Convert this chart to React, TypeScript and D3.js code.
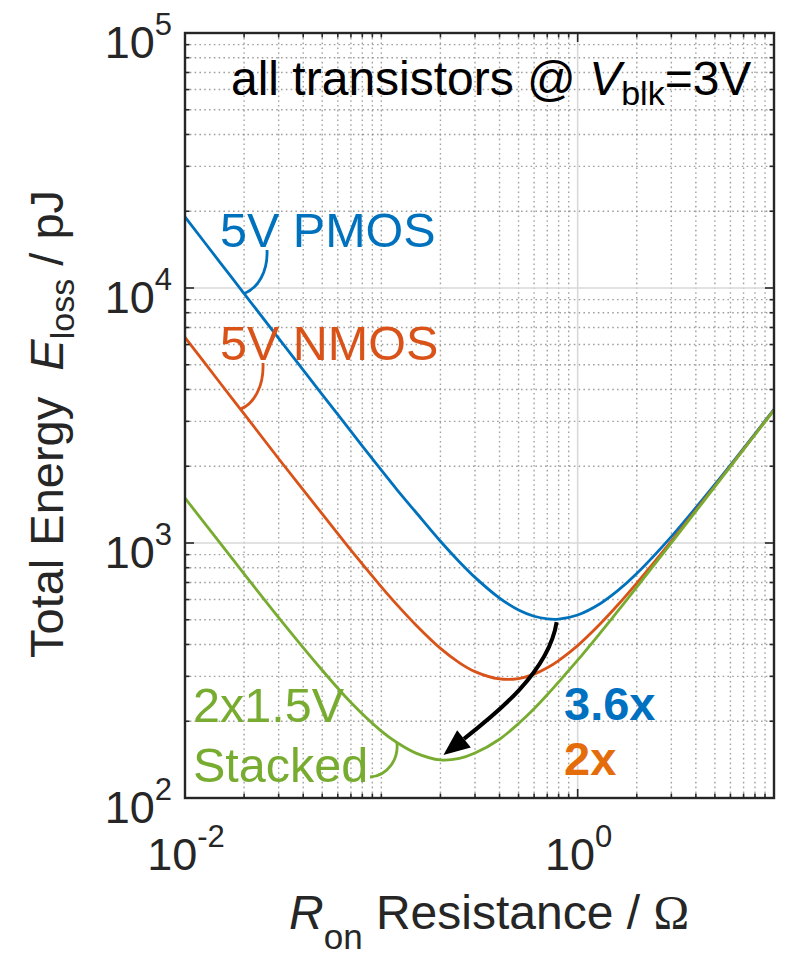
import React from 'react';
import * as d3 from 'd3';

// R_on sweep (ohm) and total loss energy (pJ)
const R_ON = [0.01, 0.015, 0.02, 0.03, 0.05, 0.07, 0.1, 0.12, 0.15, 0.2, 0.25, 0.3, 0.4, 0.5, 0.6, 0.7, 0.8, 1, 1.3, 1.6, 2, 3, 5, 7, 10];
const E_PMOS = [19000, 12670, 9510, 6340, 3820, 2740, 1930, 1620, 1320, 1016, 843, 733, 608, 546, 516, 504, 503, 522, 578, 650, 759, 1059, 1698, 2351, 3339];
const E_NMOS = [6400, 4270, 3210, 2140, 1300, 937, 673, 573, 477, 386, 339, 313, 293, 294, 306, 324, 346, 396, 481, 571, 696, 1017, 1673, 2333, 3326];
const E_STACKED = [1500, 1005, 757, 510, 317, 237, 183, 165, 150, 141, 143, 150, 170, 196, 224, 254, 285, 347, 443, 540, 672, 1001, 1663, 2326, 3322];

const X_TICKS = [0.01, 1];
const X_TICK_EXP = ['-2', '0'];
const Y_TICKS = [100, 1000, 10000, 100000];
const Y_TICK_EXP = ['2', '3', '4', '5'];

const BLUE = '#0072BD';
const ORANGE = '#D95319';
const GREEN = '#77AC30';
const AX = '#262626';
const FONT = '"Liberation Sans", Arial, sans-serif';

export default function App() {
  const width = 789;
  const height = 955;
  const left = 185, right = 774, top = 33, bottom = 798;

  const x = d3.scaleLog().domain([0.01, 10]).range([left, right]);
  const y = d3.scaleLog().domain([100, 100000]).range([bottom, top]);

  const xMinor = x.ticks().filter(d => !X_TICKS.some(t => Math.abs(t - d) < 1e-9));
  const yMinor = y.ticks().filter(d => !Y_TICKS.some(t => Math.abs(t - d) < 1e-9));

  const line = d3.line<number>()
    .x((d, i) => x(R_ON[i]))
    .y(d => y(d))
    .curve(d3.curveCatmullRom.alpha(0.5));

  const series = [
    { values: E_PMOS, color: BLUE },
    { values: E_NMOS, color: ORANGE },
    { values: E_STACKED, color: GREEN },
  ];

  // hooks from the labels to the curves
  const hook = (sx: number, sy: number, ex: number, ey: number) =>
    `M${sx},${sy} C${sx + 1},${sy + (ey - sy) * 0.5} ${ex + (sx - ex) * 0.6},${ey - (ey - sy) * 0.12} ${ex},${ey}`;
  const pA = [x(R_ON[2]), y(E_PMOS[2])];
  const nA = [x(R_ON[2]) - 3, y(E_NMOS[2]) - 5];
  const sA = [x(R_ON[7]), y(E_STACKED[7])];
  const sStart = [370, 777];
  const stackedHook = `M${sStart[0]},${sStart[1]} C${sStart[0] + 18},${sStart[1] - 1} ${sA[0] + 2},${sA[1] + 16} ${sA[0]},${sA[1]}`;

  // arrow from PMOS minimum to stacked minimum
  const bi = E_PMOS.indexOf(d3.min(E_PMOS)!);
  const gi = E_STACKED.indexOf(d3.min(E_STACKED)!);
  const p0 = [x(R_ON[bi]) - 2, y(E_PMOS[bi]) + 3];
  const tip = [x(R_ON[gi]) + 3, y(E_STACKED[gi]) - 5];
  const dir = [-0.79, 0.62];
  const base = [tip[0] - dir[0] * 26, tip[1] - dir[1] * 26];
  const perp = [0.62, 0.79];
  const arrowPath = `M${p0[0]},${p0[1]} C${p0[0] - 8},${p0[1] + 50} ${base[0] + 32},${base[1] - 25} ${base[0]},${base[1]}`;
  const head = [
    tip,
    [base[0] + perp[0] * 11, base[1] + perp[1] * 11],
    [base[0] - perp[0] * 11, base[1] - perp[1] * 11],
  ].map(p => p.join(',')).join(' ');

  const minorStyle = { stroke: '#8a8a8a', strokeWidth: 1.4, strokeDasharray: '1.6 3.2', strokeOpacity: 0.8 };

  return (
    <svg width={width} height={height} style={{ position: 'absolute', left: 0, top: 0, background: '#fff' }} fontFamily={FONT}>
      <defs>
        <clipPath id="plot-clip">
          <rect x={left} y={top} width={right - left} height={bottom - top} />
        </clipPath>
      </defs>

      {/* grid */}
      <g>
        {xMinor.map(d => (
          <line key={'xm' + d} x1={x(d)} x2={x(d)} y1={top} y2={bottom} {...minorStyle} />
        ))}
        {yMinor.map(d => (
          <line key={'ym' + d} x1={left} x2={right} y1={y(d)} y2={y(d)} {...minorStyle} />
        ))}
        {X_TICKS.map(d => (
          <line key={'xM' + d} x1={x(d)} x2={x(d)} y1={top} y2={bottom} stroke="#d8d8d8" strokeWidth={1.6} />
        ))}
        {Y_TICKS.map(d => (
          <line key={'yM' + d} x1={left} x2={right} y1={y(d)} y2={y(d)} stroke="#d8d8d8" strokeWidth={1.6} />
        ))}
      </g>

      {/* curves */}
      <g clipPath="url(#plot-clip)">
        {series.map(s => (
          <path key={s.color} d={line(s.values) || ''} fill="none" stroke={s.color} strokeWidth={2.8} />
        ))}
      </g>

      {/* annotations */}
      <g fontSize={48.5}>
        <text x={220} y={247} fill={BLUE}>5V PMOS</text>
        <text x={220} y={360} fill={ORANGE}>5V NMOS</text>
        <text x={193} y={722} fill={GREEN}>2x1.5V</text>
        <text x={193} y={782} fill={GREEN}>Stacked</text>
        <text x={564} y={720} fill="#0070C0" fontWeight="bold" fontSize={47}>3.6x</text>
        <text x={564} y={775} fill="#E46C0A" fontWeight="bold" fontSize={47}>2x</text>
      </g>
      <path d={hook(267, 250, pA[0], pA[1])} fill="none" stroke={BLUE} strokeWidth={2.8} />
      <path d={hook(263, 363, nA[0], nA[1])} fill="none" stroke={ORANGE} strokeWidth={2.8} />
      <path d={stackedHook} fill="none" stroke={GREEN} strokeWidth={2.8} />
      <path d={arrowPath} fill="none" stroke="#000" strokeWidth={4} />
      <polygon points={head} fill="#000" />

      {/* title */}
      <text x={231} y={95} fontSize={48} fill="#000">
        all transistors @ <tspan fontStyle="italic">V</tspan>
        <tspan fontSize={34} dy={10}>blk</tspan>
        <tspan dy={-10}>=3V</tspan>
      </text>

      {/* axes box + ticks */}
      <rect x={left} y={top} width={right - left} height={bottom - top} fill="none" stroke={AX} strokeWidth={2.4} />
      <g stroke={AX} strokeWidth={1.6}>
        {X_TICKS.map(d => (
          <g key={'xt' + d}>
            <line x1={x(d)} x2={x(d)} y1={bottom} y2={bottom - 9} />
            <line x1={x(d)} x2={x(d)} y1={top} y2={top + 9} />
          </g>
        ))}
        {xMinor.map(d => (
          <g key={'xmt' + d}>
            <line x1={x(d)} x2={x(d)} y1={bottom} y2={bottom - 4.5} />
            <line x1={x(d)} x2={x(d)} y1={top} y2={top + 4.5} />
          </g>
        ))}
        {Y_TICKS.map(d => (
          <g key={'yt' + d}>
            <line x1={left} x2={left + 9} y1={y(d)} y2={y(d)} />
            <line x1={right} x2={right - 9} y1={y(d)} y2={y(d)} />
          </g>
        ))}
        {yMinor.map(d => (
          <g key={'ymt' + d}>
            <line x1={left} x2={left + 4.5} y1={y(d)} y2={y(d)} />
            <line x1={right} x2={right - 4.5} y1={y(d)} y2={y(d)} />
          </g>
        ))}
      </g>

      {/* tick labels */}
      <g fill={AX} fontSize={45}>
        {Y_TICKS.map((d, i) => (
          <text key={'yl' + d} x={172} y={y(d) + 25} textAnchor="end">
            10<tspan fontSize={31} dy={-23}>{Y_TICK_EXP[i]}</tspan>
          </text>
        ))}
        {X_TICKS.map((d, i) => (
          <text key={'xl' + d} x={x(d) + 1} y={870} textAnchor="middle">
            10<tspan fontSize={31} dy={-23}>{X_TICK_EXP[i]}</tspan>
          </text>
        ))}
      </g>

      {/* axis labels */}
      <text transform="translate(63,658) rotate(-90)" fontSize={47} fill={AX} style={{ whiteSpace: 'pre' }}>
        {'Total Energy  '}<tspan fontStyle="italic">E</tspan>
        <tspan fontSize={34} dy={11}>loss</tspan>
        <tspan dy={-11}>{' / pJ'}</tspan>
      </text>
      <text x={289} y={929} fontSize={48} fill={AX} style={{ whiteSpace: 'pre' }}>
        <tspan fontStyle="italic">R</tspan>
        <tspan fontSize={35} dy={20}>on</tspan>
        <tspan dy={-20}>{' Resistance / '}</tspan>
        <tspan fontFamily='"Liberation Serif", serif'>Ω</tspan>
      </text>
    </svg>
  );
}
